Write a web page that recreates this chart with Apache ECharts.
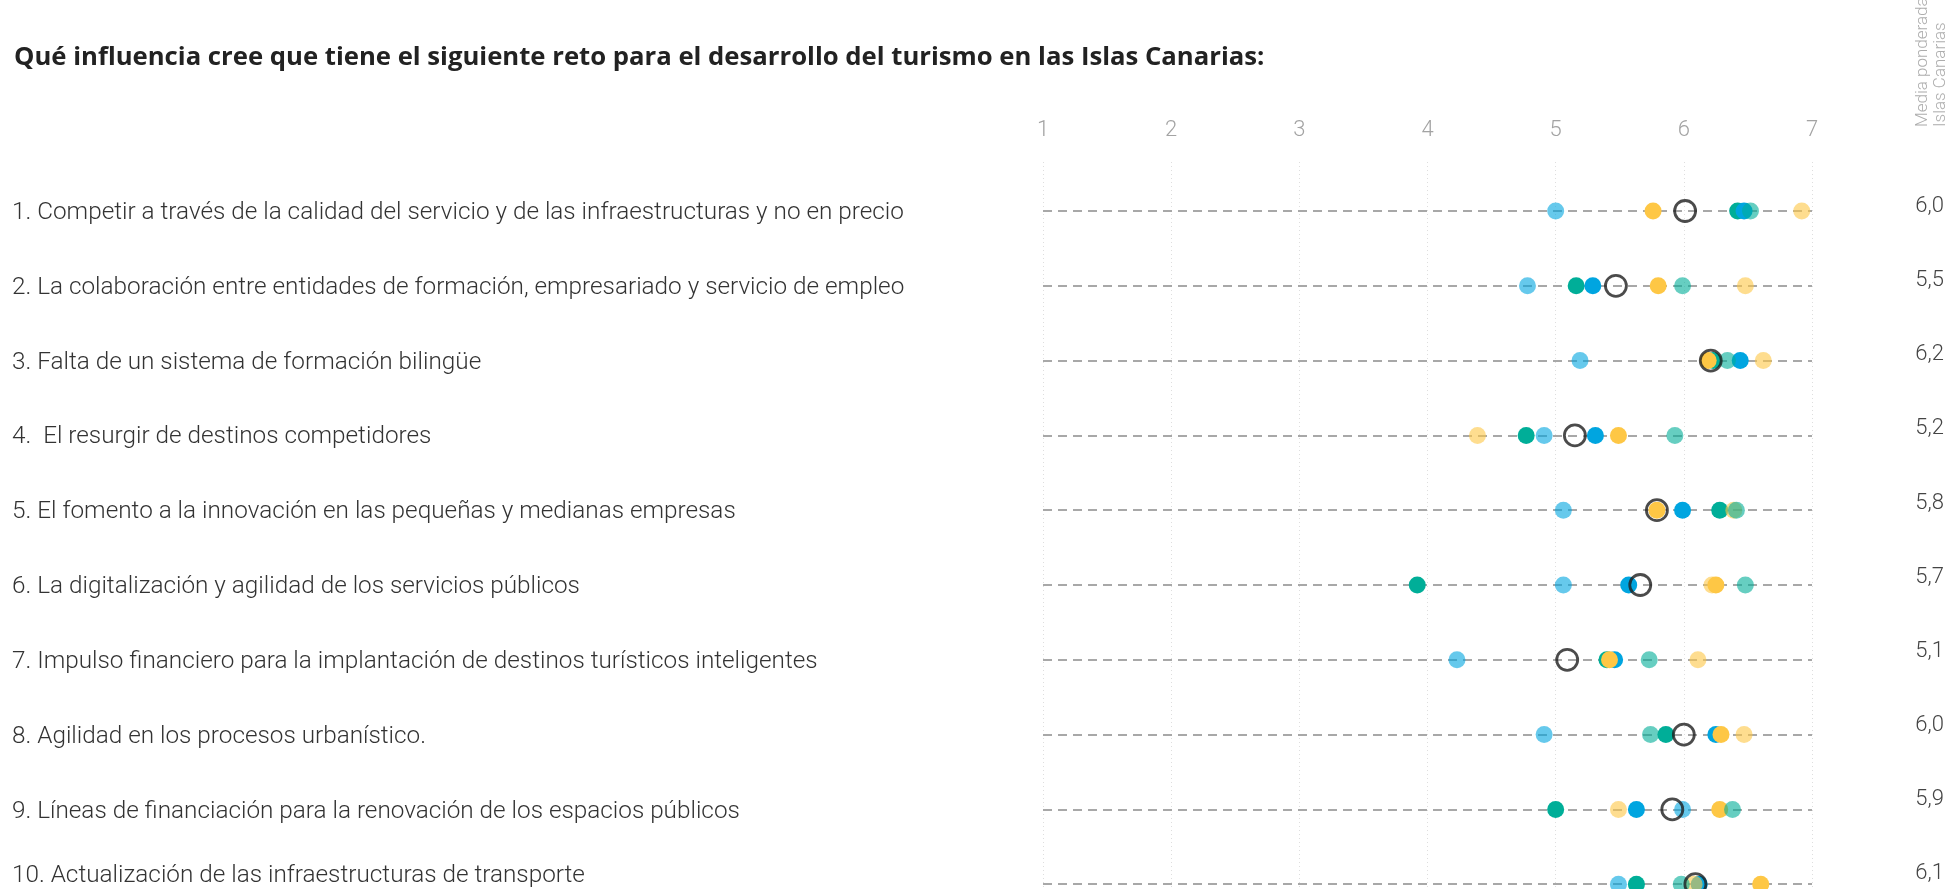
<!DOCTYPE html>
<html>
<head>
<meta charset="utf-8">
<script src="https://cdn.jsdelivr.net/npm/echarts@6/dist/echarts.min.js"></script>
<style>
  html, body { margin: 0; padding: 0; background: #fff; }
  #main { width: 1951px; height: 889px; }
</style>
</head>
<body>
<div id="main"></div>
<script>
// datos
var retos = [
  '1. Competir a través de la calidad del servicio y de las infraestructuras y no en precio',
  '2. La colaboración entre entidades de formación, empresariado y servicio de empleo',
  '3. Falta de un sistema de formación bilingüe',
  '4.  El resurgir de destinos competidores',
  '5. El fomento a la innovación en las pequeñas y medianas empresas',
  '6. La digitalización y agilidad de los servicios públicos',
  '7. Impulso financiero para la implantación de destinos turísticos inteligentes',
  '8. Agilidad en los procesos urbanístico.',
  '9. Líneas de financiación para la renovación de los espacios públicos',
  '10. Actualización de las infraestructuras de transporte'
];
var escala = [1, 2, 3, 4, 5, 6, 7];
var mediaPonderada = [6.0, 5.5, 6.2, 5.2, 5.8, 5.7, 5.1, 6.0, 5.9, 6.1];
var mediaPunto = [6.01, 5.47, 6.21, 5.15, 5.79, 5.66, 5.09, 6.0, 5.91, 6.09];

var azulClaro = [5.0, 4.78, 5.19, 4.91, 5.06, 5.06, 4.23, 4.91, 5.99, 5.49];
var verde = [6.42, 5.16, 6.23, 4.77, 6.28, 3.92, 5.40, 5.86, 5.0, 5.63];
var azul = [6.47, 5.29, 6.44, 5.31, 5.99, 5.57, 5.46, 6.25, 5.63, 6.12];
var amarilloClaro = [6.92, 6.48, 6.62, 4.39, 6.39, 6.22, 6.11, 6.47, 5.49, 6.08];
var amarillo = [5.76, 5.80, 6.19, 5.49, 5.79, 6.25, 5.42, 6.29, 6.28, 6.60];
var verdeClaro = [6.52, 5.99, 6.34, 5.93, 6.41, 6.48, 5.73, 5.74, 6.38, 5.98];

var filas = retos.map(function (r, i) { return i + 1; });
var fuente = 'Roboto';

function puntos(valores) {
  return valores.map(function (v, i) { return [v, i + 1]; });
}

function serieDots(valores, color, opacidad) {
  return {
    type: 'scatter',
    data: puntos(valores),
    symbolSize: 17,
    itemStyle: { color: color, opacity: opacidad },
    silent: true,
    z: 3
  };
}

var chart = echarts.init(document.getElementById('main'));

var option = {
  animation: false,
  title: {
    text: 'Qué influencia cree que tiene el siguiente reto para el desarrollo del turismo en las Islas Canarias:',
    left: 9,
    top: 40,
    textStyle: { fontFamily: 'Open Sans', fontWeight: 'bold', fontSize: 25.7, color: '#222' }
  },
  grid: { left: 1043, right: 139, top: 162, bottom: 0 },
  xAxis: {
    type: 'value',
    position: 'top',
    min: escala[0],
    max: escala[escala.length - 1],
    interval: 1,
    axisLine: { show: false },
    axisTick: { show: false },
    axisLabel: { color: '#a3a3a3', fontSize: 22, fontFamily: fuente, fontWeight: 300, margin: 21 },
    splitLine: { lineStyle: { type: [1, 3], color: '#dedede', width: 1 } }
  },
  yAxis: [
    {
      // eje de los puntos
      type: 'value', inverse: true, min: 0.345, max: 10.064, show: false
    },
    {
      // textos de cada reto
      type: 'value', inverse: true, min: 0.318, max: 10.037, position: 'left',
      axisLine: { show: false }, axisTick: { show: false }, splitLine: { show: false },
      axisLabel: {
        customValues: filas,
        formatter: function (v) {
          return v === retos.length ? '{ult|' + retos[v - 1] + '}' : retos[v - 1];
        },
        rich: { ult: { padding: [0, 0, 20, 0], fontSize: 24.3, color: '#333', fontFamily: fuente, fontWeight: 300 } },
        align: 'left', margin: 1031,
        color: '#333', fontSize: 24.3, fontFamily: fuente, fontWeight: 300
      }
    },
    {
      // media ponderada
      type: 'value', inverse: true, min: 0.397, max: 10.208, position: 'right',
      axisLine: { show: false }, axisTick: { show: false }, splitLine: { show: false },
      axisLabel: {
        customValues: filas,
        formatter: function (v) { return mediaPonderada[v - 1].toFixed(1).replace('.', ','); },
        align: 'right', margin: 132,
        color: '#444', fontSize: 22, fontFamily: fuente, fontWeight: 300
      }
    }
  ],
  graphic: [{
    type: 'text',
    x: 1932,
    y: 127,
    rotation: Math.PI / 2,
    style: {
      text: 'Media ponderada\nIslas Canarias',
      fill: '#adadad',
      font: '300 17px ' + fuente,
      align: 'left',
      verticalAlign: 'middle',
      lineHeight: 18
    }
  }],
  series: [
    {
      // líneas discontinuas
      type: 'lines',
      coordinateSystem: 'cartesian2d',
      silent: true,
      z: 1,
      data: filas.map(function (f) {
        return { coords: [[escala[0], f], [escala[escala.length - 1], f]] };
      }),
      lineStyle: { color: '#a8a8a8', width: 2, type: [9, 6], opacity: 1 }
    },
    serieDots(azulClaro, '#00a5e0', 0.6),
    serieDots(verde, '#00ae98', 1),
    serieDots(azul, '#00a5e0', 1),
    serieDots(amarilloClaro, '#fec745', 0.6),
    serieDots(amarillo, '#fec745', 1),
    serieDots(verdeClaro, '#00ae98', 0.6),
    {
      type: 'scatter',
      data: puntos(mediaPunto),
      symbolSize: 21,
      itemStyle: { color: 'rgba(0,0,0,0)', borderColor: '#1e1e1e', borderWidth: 2.8 },
      silent: true,
      z: 4
    }
  ]
};

chart.setOption(option);
</script>
</body>
</html>
